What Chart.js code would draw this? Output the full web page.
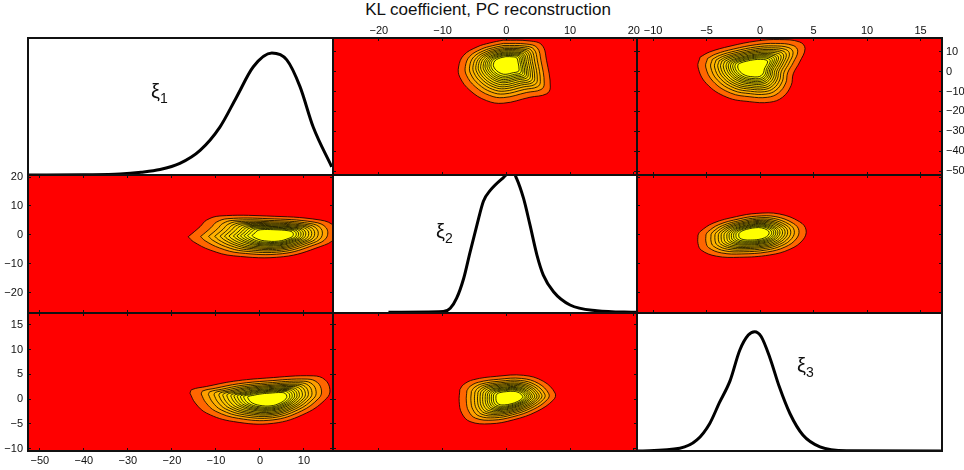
<!DOCTYPE html>
<html>
<head>
<meta charset="utf-8">
<script src="https://cdn.jsdelivr.net/npm/chart.js"></script>
<style>
  body { margin: 0; background: #fff; }
  #wrap { position: relative; width: 964px; height: 470px; overflow: hidden;
          font-family: "Liberation Sans", Arial, sans-serif; color: #111; }
  #wrap canvas { position: absolute; left: 0; top: 0; }
  #title { position: absolute; left: 6px; top: 0px; width: 964px; text-align: center; font-size: 17px; }
  .lbl { position: absolute; font-size: 20px; line-height: 20px; z-index: 5; }
  .lbl sub { font-size: 14px; vertical-align: -5px; }
</style>
</head>
<body>
<div id="wrap">
  <div id="title">KL coefficient, PC reconstruction</div>
  <div class="lbl" style="left:151px;top:81px">ξ<sub>1</sub></div>
  <div class="lbl" style="left:436px;top:221px">ξ<sub>2</sub></div>
  <div class="lbl" style="left:797px;top:355px">ξ<sub>3</sub></div>
</div>
<script>
// axis limits (x per column, y per row)
const xi1ColRange = [-52.7, 16.6];
const xi2ColRange = [-27.2, 20.5];
const xi3ColRange = [-11.5, 17.0];
const xi1RowRange = [-52.0, 16.9];
const xi2RowRange = [-27.1, 20.7];
const xi3RowRange = [-10.5, 17.4];

// tick values
const xi1Ticks = [-50, -40, -30, -20, -10, 0, 10];
const xi2Ticks = [-20, -10, 0, 10, 20];
const xi3Ticks = [-10, -5, 0, 5, 10, 15];

// marginal densities (diagonal)
const xi1Grid    = [-52.7, -40, -31.8, -27, -22.7, -18.2, -13.6, -9.1, -5.3, -1.5, 2.7, 6.1, 9.1, 12.1, 16.3];
const xi1Density = [0, 0.002, 0.007, 0.02, 0.04, 0.085, 0.18, 0.35, 0.57, 0.79, 0.89, 0.84, 0.645, 0.35, 0.06];
const xi2Grid    = [-18.5, -9.9, -8.8, -7.8, -6.7, -5.7, -4.6, -3.6, -2.5, -0.5, 0.9, 1.6, 2.7, 3.7, 4.8, 5.8, 7.4, 10.0, 14.2, 20.5];
const xi2Density = [0.005, 0.01, 0.034, 0.107, 0.25, 0.44, 0.64, 0.81, 0.89, 0.98, 1.03, 0.976, 0.83, 0.64, 0.42, 0.275, 0.154, 0.058, 0.017, 0.005];
const xi3Grid    = [-11.4, -7.5, -5.9, -4.7, -3.8, -2.8, -1.9, -1.1, -0.5, 0.1, 0.9, 1.8, 2.8, 4.0, 5.6, 8.1, 16.9];
const xi3Density = [0, 0.02, 0.08, 0.2, 0.35, 0.51, 0.73, 0.84, 0.865, 0.83, 0.68, 0.465, 0.27, 0.116, 0.03, 0.002, 0];

// outer contour of each joint density [x, y] and its peak
const outline12 = [[-0.5,15.8],[3.7,15.4],[5.6,13.3],[6.3,5.7],[6.9,-7.8],[6.3,-11.2],[3.7,-12.9],[-0.5,-15.9],[-3.1,-14.6],[-5.7,-9.5],[-7.3,-2.8],[-7.5,2.3],[-6.7,8.2],[-4.6,12.4],[-2.6,14.4]];
const peak12 = [0.1, 4.3];
const outline13 = [[-5.6,7.3],[-5.8,2.3],[-5.0,-6.1],[-3.1,-12.9],[-1.0,-15.1],[0.9,-15.4],[2.1,-12.9],[2.9,-7.0],[3.1,-1.1],[3.7,4.8],[4.2,11.6],[3.7,14.9],[1.8,16.1],[-0.3,15.4],[-2.8,12.8],[-4.7,9.9]];
const peak13 = [-0.65, 2.3];
const outline21 = [[-16.3,-0.7],[-13.6,2.8],[-12.1,5.1],[-9.1,6.5],[1.5,6.5],[13.7,5.1],[16.9,2.8],[16.9,-1.3],[13.7,-4.1],[5.3,-7.6],[-6.0,-7.3],[-11.3,-5.3],[-15.1,-2.4]];
const peak21 = [3.8, -0.1];
const outline23 = [[-5.8,-0.1],[-5.6,1.1],[-4.4,4.0],[-2.2,6.3],[-0.3,7.4],[1.8,7.2],[3.7,4.5],[4.3,1.65],[4.0,-1.8],[2.8,-5.0],[0.9,-7.0],[-1.9,-7.8],[-4.1,-7.4],[-5.5,-5.3],[-5.8,-3.0]];
const peak23 = [-0.5, 0.5];
const outline31 = [[-15.9,1.2],[-15.5,1.9],[-12.1,2.55],[-6.0,3.6],[1.55,4.25],[12.1,4.7],[14.8,3.9],[15.9,1.9],[15.2,0.2],[10.6,-2.8],[3.05,-4.9],[-6.0,-4.55],[-12.1,-2.85],[-14.7,-0.8]];
const peak31 = [2.3, 0.0];
const outline32 = [[-7.3,1.9],[-6.75,2.9],[-5.2,3.9],[-1.5,4.6],[2.7,4.8],[5.8,3.6],[7.65,1.2],[7.4,-0.15],[4.8,-2.5],[1.1,-4.2],[-2.55,-5.0],[-5.7,-4.55],[-7.0,-2.85],[-7.4,-0.5]];
const peak32 = [0.6, 0.3];

// relative size of each contour level (outer -> inner)
const contourScale = [1, 0.86, 0.77, 0.7, 0.64, 0.59, 0.54, 0.49, 0.45, 0.41, 0.37, 0.33, 0.28];

// page layout of the 3x3 grid
const colX = [28, 333, 637, 942];
const rowY = [38, 175, 313, 451];
const axisSize = { left: 28, right: 22, top: 16, bottom: 18 };
const colRanges = [xi1ColRange, xi2ColRange, xi3ColRange];
const rowRanges = [xi1RowRange, xi2RowRange, xi3RowRange];
const allTicks = [xi1Ticks, xi2Ticks, xi3Ticks];

const FONT = { family: '"Liberation Sans", Arial, sans-serif', size: 11 };
const fmt = v => (v < 0 ? '\u2212' + Math.abs(v) : String(v));

const framePlugin = {
  id: 'frame',
  beforeDraw(chart, args, opts) {
    const a = chart.chartArea, ctx = chart.ctx;
    ctx.save();
    ctx.fillStyle = opts.bg;
    ctx.fillRect(a.left, a.top, a.right - a.left, a.bottom - a.top);
    ctx.restore();
  },
  afterDraw(chart) {
    const a = chart.chartArea, ctx = chart.ctx;
    ctx.save();
    ctx.strokeStyle = '#111';
    ctx.lineWidth = 2;
    ctx.strokeRect(a.left, a.top, a.right - a.left, a.bottom - a.top);
    ctx.restore();
  }
};

function axis(pos, range, ticks, showLabels, pad) {
  return {
    type: 'linear', position: pos, min: range[0], max: range[1], z: 1,
    grid: { display: true, drawOnChartArea: false, drawTicks: true, tickLength: -3, color: '#111', lineWidth: 1 },
    border: { display: false },
    ticks: { display: showLabels, padding: pad, color: '#111', font: FONT,
             autoSkip: false, maxRotation: 0, minRotation: 0, callback: v => fmt(v) },
    afterBuildTicks: s => { s.ticks = ticks.map(v => ({ value: v })); },
    afterFit: s => {
      if (s.isHorizontal()) s.height = axisSize[pos]; else s.width = axisSize[pos];
      s.paddingLeft = s.paddingRight = s.paddingTop = s.paddingBottom = 0;
    }
  };
}

function levelColor(k) {
  const g = Math.round(102 + 153 * Math.pow(k / (contourScale.length - 1), 0.4));
  return 'rgb(255,' + g + ',0)';
}

function contourSets(outline, peak) {
  return contourScale.map((s, k) => {
    const pts = outline.map(p => ({ x: peak[0] + (p[0] - peak[0]) * s, y: peak[1] + (p[1] - peak[1]) * s }));
    pts.push(pts[0]);
    return {
      data: pts, fill: 'shape', backgroundColor: levelColor(k),
      borderColor: '#000', borderWidth: 0.8, pointRadius: 0, tension: 0.4,
      order: contourScale.length - k, clip: 0
    };
  });
}

const wrap = document.getElementById('wrap');

function makePanel(r, c, datasets, diag) {
  const cv = document.createElement('canvas');
  cv.width = 964; cv.height = 470;
  wrap.appendChild(cv);
  let scales, pad;
  if (diag) {
    scales = {
      x: { type: 'linear', display: false, min: colRanges[c][0], max: colRanges[c][1] },
      y: { type: 'linear', display: false, min: 0, max: 1 }
    };
    pad = { left: colX[c], right: 964 - colX[c + 1], top: rowY[r], bottom: 470 - rowY[r + 1] };
  } else {
    scales = {
      x:  axis('bottom', colRanges[c], allTicks[c], r === 2 && c === 0, 6),
      x2: axis('top',    colRanges[c], allTicks[c], r === 0 && c > 0, 3),
      y:  axis('left',   rowRanges[r], allTicks[r], c === 0 && r > 0, 8),
      y2: axis('right',  rowRanges[r], allTicks[r], c === 2 && r === 0, 7)
    };
    pad = {
      left: colX[c] - axisSize.left, right: 964 - colX[c + 1] - axisSize.right,
      top: rowY[r] - axisSize.top, bottom: 470 - rowY[r + 1] - axisSize.bottom
    };
  }
  new Chart(cv.getContext('2d'), {
    type: 'line',
    data: { datasets: datasets },
    options: {
      responsive: false, animation: false, devicePixelRatio: 1,
      layout: { padding: pad },
      scales: scales,
      plugins: { legend: { display: false }, tooltip: { enabled: false }, frame: { bg: diag ? '#ffffff' : '#ff0000' } }
    },
    plugins: [framePlugin]
  });
}

function densitySet(xs, ys) {
  return [{
    data: xs.map((x, i) => ({ x: x, y: ys[i] })),
    borderColor: '#000', borderWidth: 3, pointRadius: 0, fill: false,
    cubicInterpolationMode: 'monotone'
  }];
}

makePanel(0, 0, densitySet(xi1Grid, xi1Density), true);
makePanel(0, 1, contourSets(outline12, peak12), false);
makePanel(0, 2, contourSets(outline13, peak13), false);
makePanel(1, 0, contourSets(outline21, peak21), false);
makePanel(1, 1, densitySet(xi2Grid, xi2Density), true);
makePanel(1, 2, contourSets(outline23, peak23), false);
makePanel(2, 0, contourSets(outline31, peak31), false);
makePanel(2, 1, contourSets(outline32, peak32), false);
makePanel(2, 2, densitySet(xi3Grid, xi3Density), true);
</script>
</body>
</html>
